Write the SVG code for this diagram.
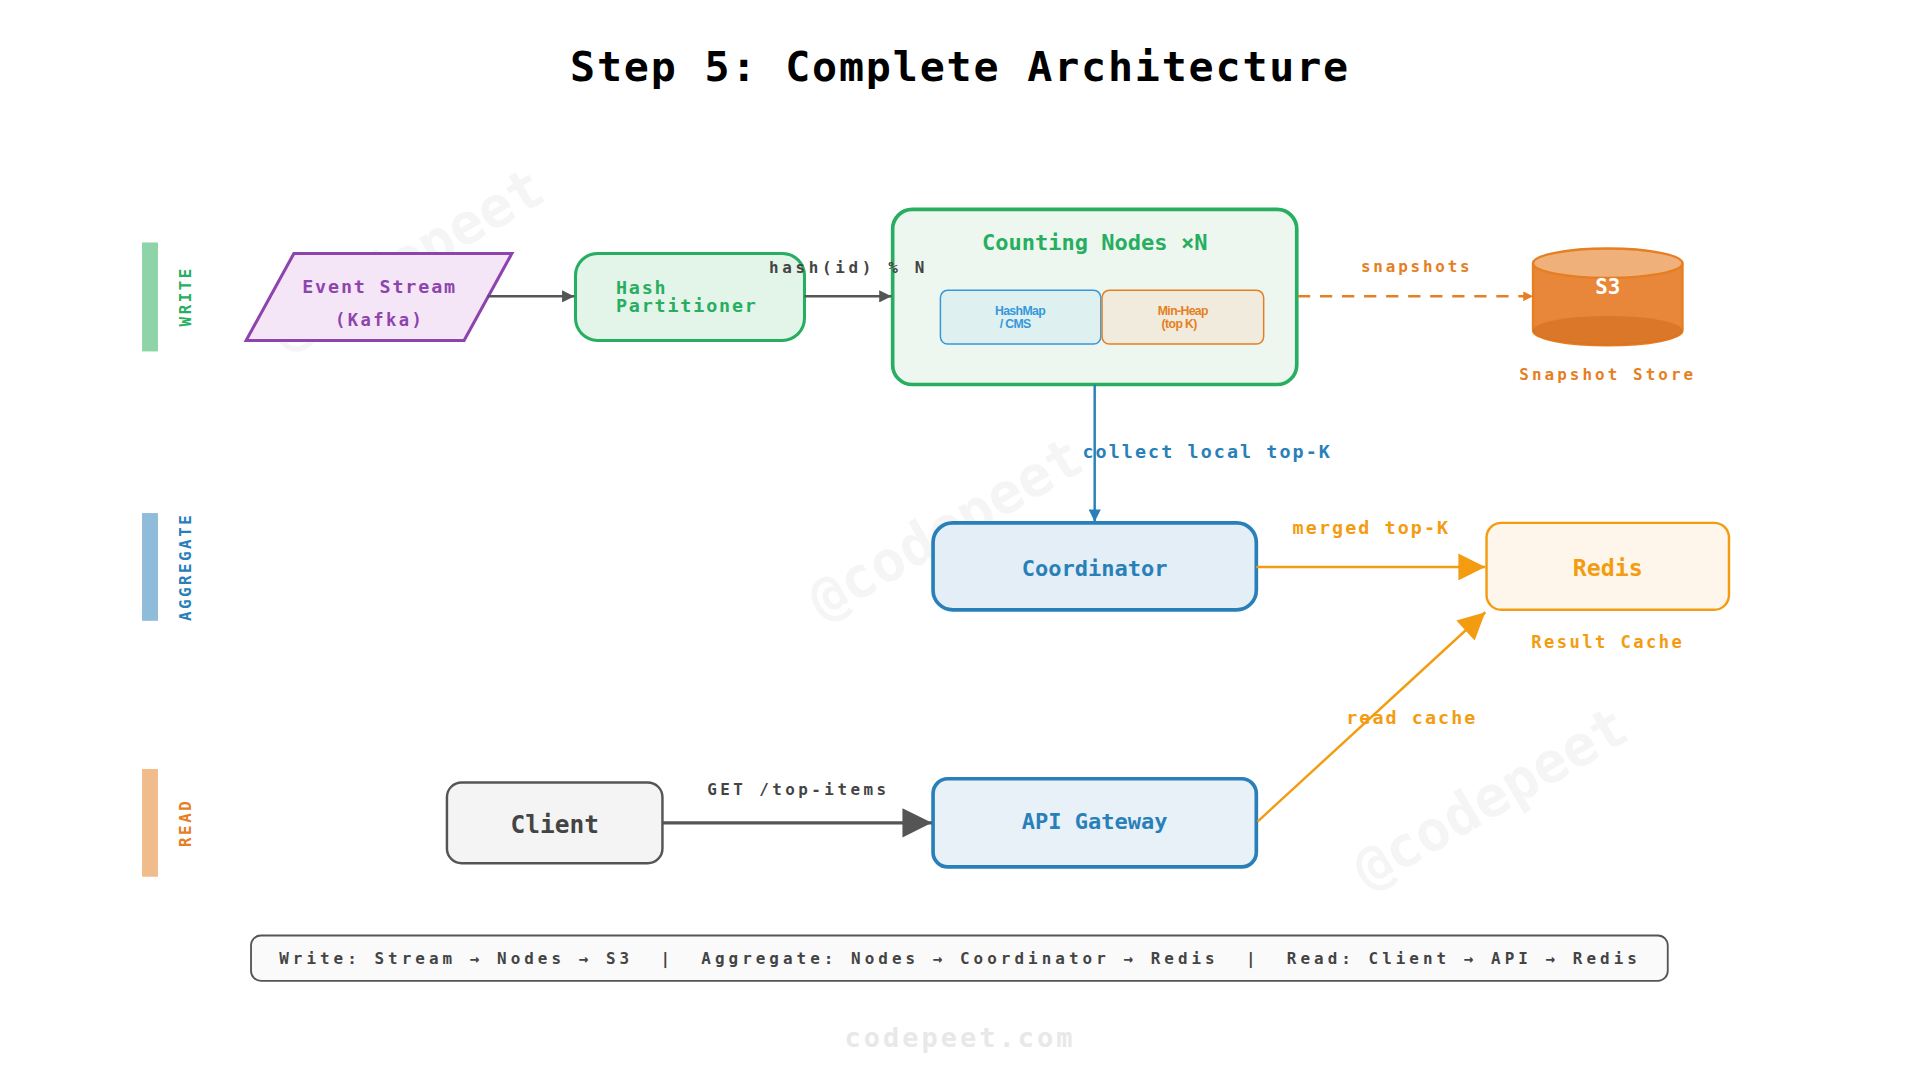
<svg xmlns="http://www.w3.org/2000/svg" width="1920" height="1080" viewBox="0 0 1920 1080">
<style>
text{font-family:"DejaVu Sans Mono","Liberation Mono",monospace;font-weight:bold}
.c{text-anchor:middle}
.wm{fill:#000;opacity:0.035;font-size:46px}
.n{font-family:"Liberation Sans Narrow","Liberation Sans",sans-serif;font-size:10px;letter-spacing:-0.5px;text-anchor:middle}
</style>
<defs>
<marker id="sg" viewBox="0 0 10 10" refX="10" refY="5" markerWidth="5" markerHeight="5" orient="auto"><path d="M0,0L10,5L0,10z" fill="#555"/></marker>
<marker id="sb" viewBox="0 0 10 10" refX="10" refY="5" markerWidth="5" markerHeight="5" orient="auto"><path d="M0,0L10,5L0,10z" fill="#2980b9"/></marker>
<marker id="so" viewBox="0 0 10 10" refX="10" refY="5" markerWidth="4" markerHeight="4" orient="auto"><path d="M0,0L10,5L0,10z" fill="#e67e22"/></marker>
<marker id="bo" viewBox="0 0 10 10" refX="10" refY="5" markerWidth="24" markerHeight="22" markerUnits="userSpaceOnUse" orient="auto"><path d="M0,0L10,5L0,10z" fill="#f39c12"/></marker>
<marker id="bg" viewBox="0 0 10 10" refX="10" refY="5" markerWidth="26" markerHeight="24" markerUnits="userSpaceOnUse" orient="auto"><path d="M0,0L10,5L0,10z" fill="#555"/></marker>
</defs>
<rect width="1920" height="1080" fill="#fff"/>
<g transform="scale(1.22449)">
<text class="wm" transform="translate(340,225) rotate(-30)" text-anchor="middle">@codepeet</text>
<text class="wm" transform="translate(780,445) rotate(-30)" text-anchor="middle">@codepeet</text>
<text class="wm" transform="translate(1225,665) rotate(-30)" text-anchor="middle">@codepeet</text>
<text class="c" x="784" y="66" font-size="34" letter-spacing="1.5">Step 5: Complete Architecture</text>

<g id="lanes">
<rect x="116" y="198" width="13" height="89" fill="#8fd4a8"/>
<text class="c" transform="translate(156,242) rotate(-90)" font-size="13" fill="#27ae60" letter-spacing="2">WRITE</text>
<rect x="116" y="419" width="13" height="88" fill="#8fbcdb"/>
<text class="c" transform="translate(156,463) rotate(-90)" font-size="13" fill="#2980b9" letter-spacing="2">AGGREGATE</text>
<rect x="116" y="628" width="13" height="88" fill="#f0bc8c"/>
<text class="c" transform="translate(156,672) rotate(-90)" font-size="13" fill="#e67e22" letter-spacing="2">READ</text>
</g>

<g id="event-stream">
<polygon points="240,207 418,207 379,278 201,278" fill="#f4e6f7" stroke="#8e44ad" stroke-width="2.5"/>
<text class="c" x="310" y="239" font-size="15" fill="#8e44ad" letter-spacing="1.5">Event Stream</text>
<text class="c" x="310" y="266" font-size="14" fill="#8e44ad" letter-spacing="2">(Kafka)</text>
</g>
<g id="hash-partitioner">
<rect x="470" y="207" width="187" height="71" rx="18" fill="#e3f4e8" stroke="#27ae60" stroke-width="2.5"/>
<text x="503" y="240" font-size="15" fill="#27ae60" letter-spacing="1.5">Hash</text>
<text x="503" y="255" font-size="15" fill="#27ae60" letter-spacing="1.5">Partitioner</text>
</g>
<g id="counting-nodes">
<rect x="729" y="171" width="330" height="143" rx="16" fill="#edf7ef" stroke="#27ae60" stroke-width="3"/>
<text class="c" x="894" y="204" font-size="18" fill="#27ae60">Counting Nodes ×N</text>
<rect x="768" y="237" width="131" height="44" rx="6" fill="#dff0f0" stroke="#3498db" stroke-width="1.2"/>
<text class="n" x="833" y="257" fill="#3498db">HashMap</text>
<text class="n" x="829" y="268" fill="#3498db">/ CMS</text>
<rect x="900" y="237" width="132" height="44" rx="6" fill="#f0ebdc" stroke="#e67e22" stroke-width="1.2"/>
<text class="n" x="966" y="257" fill="#e67e22">Min-Heap</text>
<text class="n" x="963" y="268" fill="#e67e22">(top K)</text>
</g>
<g id="s3">
<path d="M1252,215 V270 A61,12 0 0 0 1374,270 V215" fill="#e8873a" stroke="#e67e22" stroke-width="2"/>
<ellipse cx="1313" cy="270" rx="61" ry="12" fill="#d06d1e" opacity="0.6"/>
<ellipse cx="1313" cy="215" rx="61" ry="12" fill="#f0b07a" stroke="#e67e22" stroke-width="2"/>
<text class="c" x="1313" y="240" font-size="17" fill="#fff">S3</text>
<text class="c" x="1313" y="310" font-size="13" fill="#e67e22" letter-spacing="2.5">Snapshot Store</text>
</g>
<g id="coordinator">
<rect x="762" y="427" width="264" height="71" rx="16" fill="#e3eef6" stroke="#2980b9" stroke-width="3"/>
<text class="c" x="894" y="470" font-size="18" fill="#2980b9">Coordinator</text>
</g>
<g id="redis">
<rect x="1214" y="427" width="198" height="71" rx="12" fill="#fef6ea" stroke="#f39c12" stroke-width="2"/>
<text class="c" x="1313" y="470" font-size="19" fill="#f39c12">Redis</text>
<text class="c" x="1313" y="529" font-size="14" fill="#f39c12" letter-spacing="2">Result Cache</text>
</g>
<g id="client">
<rect x="365" y="639" width="176" height="66" rx="12" fill="#f4f4f4" stroke="#555" stroke-width="2"/>
<text class="c" x="453" y="680" font-size="20" fill="#444">Client</text>
</g>
<g id="api-gateway">
<rect x="762" y="636" width="264" height="72" rx="12" fill="#e8f1f8" stroke="#2980b9" stroke-width="3"/>
<text class="c" x="894" y="677" font-size="18" fill="#2980b9">API Gateway</text>
</g>

<g id="connectors">
<line x1="398" y1="242" x2="469" y2="242" stroke="#555" stroke-width="2" marker-end="url(#sg)"/>
<line x1="657" y1="242" x2="728" y2="242" stroke="#555" stroke-width="2" marker-end="url(#sg)"/>
<text class="c" x="693" y="223" font-size="13" fill="#444" letter-spacing="3">hash(id) % N</text>
<line x1="1060" y1="242" x2="1252" y2="242" stroke="#e67e22" stroke-width="2" stroke-dasharray="10,8" marker-end="url(#so)"/>
<text class="c" x="1157" y="222" font-size="13" fill="#e67e22" letter-spacing="2.3">snapshots</text>
<line x1="894" y1="314" x2="894" y2="426" stroke="#2980b9" stroke-width="2" marker-end="url(#sb)"/>
<text x="884" y="374" font-size="15" fill="#2980b9" letter-spacing="1.7">collect local top-K</text>
<line x1="1026" y1="463" x2="1213" y2="463" stroke="#f39c12" stroke-width="2" marker-end="url(#bo)"/>
<text class="c" x="1120" y="436" font-size="15" fill="#f39c12" letter-spacing="1.7">merged top-K</text>
<line x1="541" y1="672" x2="761" y2="672" stroke="#555" stroke-width="2.5" marker-end="url(#bg)"/>
<text class="c" x="652" y="649" font-size="13" fill="#444" letter-spacing="2.8">GET /top-items</text>
<line x1="1027" y1="671" x2="1213" y2="500" stroke="#f39c12" stroke-width="2" marker-end="url(#bo)"/>
<text class="c" x="1153" y="591" font-size="15" fill="#f39c12" letter-spacing="1.7">read cache</text>
</g>

<g id="legend">
<rect x="205" y="764" width="1157" height="37" rx="8" fill="#fafafa" stroke="#555" stroke-width="1.5"/>
<text class="c" x="784" y="787" font-size="13" fill="#444" letter-spacing="3.3" xml:space="preserve">Write: Stream → Nodes → S3  |  Aggregate: Nodes → Coordinator → Redis  |  Read: Client → API → Redis</text>
</g>
<text class="c" x="784" y="855" font-size="22" fill="#e8e8e8" letter-spacing="2.5">codepeet.com</text>
</g>
</svg>
